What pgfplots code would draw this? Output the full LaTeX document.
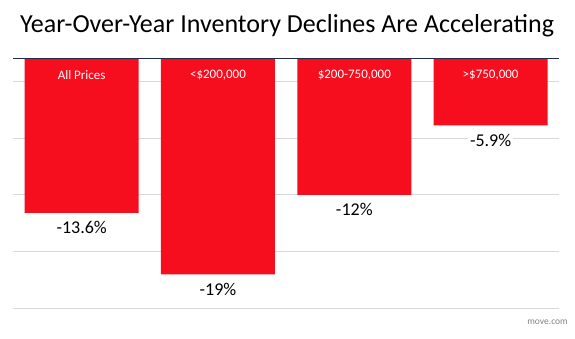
\documentclass[border=0pt]{standalone}
\usepackage{pgfplots}
\pgfplotsset{compat=1.18}
\usepackage{fontspec}
\setmainfont{Carlito}
\definecolor{barred}{RGB}{246,14,30}
\definecolor{gridgray}{RGB}{217,217,217}
\definecolor{topline}{RGB}{31,45,74}
\definecolor{srcgray}{RGB}{130,130,130}
\begin{document}
\begin{tikzpicture}[x=1pt,y=1pt]
\useasboundingbox (0,0) rectangle (575,339);
\node[anchor=base, font=\fontsize{26}{30}\selectfont, inner sep=0] at (287,306) {Year-Over-Year Inventory Declines Are Accelerating};
\node[anchor=east, text=srcgray, font=\fontsize{9.5}{11}\selectfont, inner sep=0] at (568,16.3) {move.com};
\begin{scope}[overlay]
\begin{axis}[
 at={(9.9,26.8)}, anchor=south west, scale only axis, width=545.3pt, height=250.2pt,
 xmin=-0.5, xmax=3.5, ymin=-22, ymax=0,
 ytick={-22,-17,-12,-7,-2}, yticklabels={}, yticklabel style={overlay, inner sep=0pt},
 ymajorgrids, grid style={gridgray, line width=0.8pt},
 axis line style={draw=none}, major tick length=0pt,
 xtick=\empty,
 clip=false,
 ybar, bar width=114pt, bar shift=0pt,
 point meta=explicit symbolic,
]
\addplot[fill=barred, draw=none,
 nodes near coords,
 nodes near coords style={font=\fontsize{18}{21}\selectfont, text=black, fill=white, inner sep=2pt, anchor=north, yshift=-6.5pt}]
 coordinates {
 (0,-13.6) [-13.6\%]
 (1,-19) [-19\%]
 (2,-12) [-12\%]
 (3,-5.9) [-5.9\%]
};
\addplot[fill=none, draw=none,
 nodes near coords,
 nodes near coords style={font=\fontsize{13}{15}\selectfont, text=white, inner sep=0pt, anchor=center, yshift=-16.8pt}]
 coordinates {
 (0,0) [All Prices]
 (1,0) [<\$200,000]
 (2,0) [\$200-750,000]
 (3,0) [>\$750,000]
};
\draw[topline, line width=1.2pt] (axis cs:-0.5,0) -- (axis cs:3.5,0);
\end{axis}
\end{scope}
\end{tikzpicture}
\end{document}
